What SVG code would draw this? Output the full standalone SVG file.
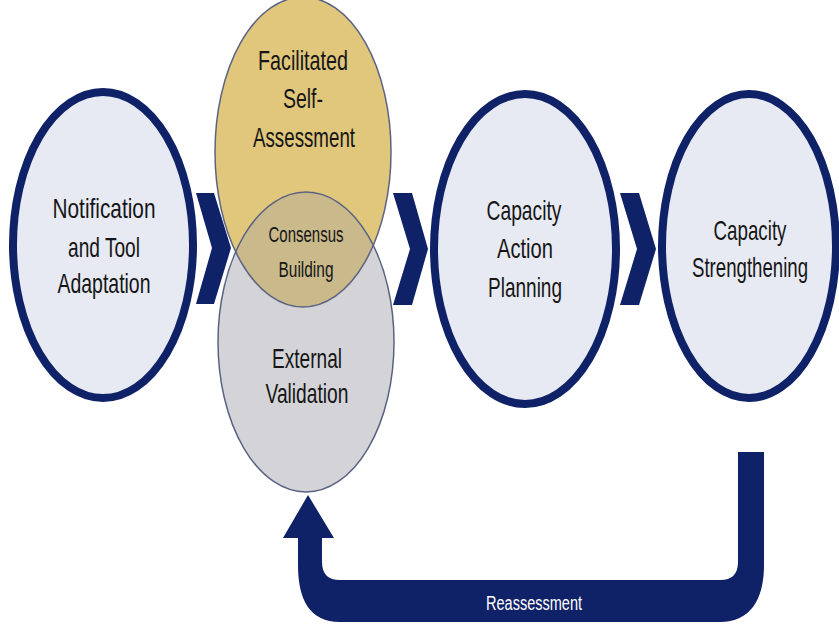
<svg xmlns="http://www.w3.org/2000/svg" width="839" height="624" viewBox="0 0 839 624">
<style>
.lbl{font-family:"Liberation Sans",Arial,sans-serif;font-size:28px;fill:#161616;text-anchor:middle}
.sm{font-size:22px}
.stage{fill:#e7eaf3;stroke:#0f2167;stroke-width:8}
.thin{fill:none;stroke:#5b6383;stroke-width:1.5}
.navy{fill:#0f2167}
</style>
<defs>
<clipPath id="goldClip"><ellipse cx="303" cy="152" rx="88" ry="155"/></clipPath>
</defs>
<rect width="839" height="624" fill="#fff"/>
<g id="connectors">
<polygon class="navy" points="196,193 214,193 231,248 214,304 196,304 212,248"/>
<polygon class="navy" points="393,193 412,193 428,249 412,305 393,305 410,249"/>
<polygon class="navy" points="620,193 639,193 656,249 639,305 620,305 637,249"/>
<path class="navy" d="M738,452 H764 V565 C764,600 750,622 720,622 H340 C310,622 298,600 298,565 V538 H283 L308,495 L334,538 H322 V562 Q322,580 340,580 H720 Q738,580 738,562 Z"/>
<text x="534" y="610" class="lbl" style="font-size:20px;fill:#fff" textLength="96" lengthAdjust="spacingAndGlyphs">Reassessment</text>
</g>
<g id="notification">
<ellipse class="stage" cx="103" cy="245" rx="90" ry="153"/>
<text class="lbl" x="104" y="218" textLength="103" lengthAdjust="spacingAndGlyphs">Notification</text>
<text class="lbl" x="104" y="257" textLength="72" lengthAdjust="spacingAndGlyphs">and Tool</text>
<text class="lbl" x="104" y="293" textLength="93" lengthAdjust="spacingAndGlyphs">Adaptation</text>
</g>
<g id="self-assessment">
<ellipse cx="303" cy="152" rx="88" ry="155" fill="#e0c77c"/>
</g>
<g id="external-validation">
<ellipse cx="306" cy="342" rx="88" ry="150" fill="#d4d4d8"/>
</g>
<g id="consensus">
<ellipse cx="306" cy="342" rx="88" ry="150" fill="#c9b98b" clip-path="url(#goldClip)"/>
<ellipse class="thin" cx="303" cy="152" rx="88" ry="155"/>
<ellipse class="thin" cx="306" cy="342" rx="88" ry="150"/>
<text class="lbl sm" x="306" y="242" textLength="75" lengthAdjust="spacingAndGlyphs">Consensus</text>
<text class="lbl sm" x="306" y="277" textLength="55" lengthAdjust="spacingAndGlyphs">Building</text>
</g>
<g id="self-assessment-text">
<text class="lbl" x="303" y="70" textLength="90" lengthAdjust="spacingAndGlyphs">Facilitated</text>
<text class="lbl" x="303" y="108" textLength="40" lengthAdjust="spacingAndGlyphs">Self-</text>
<text class="lbl" x="304" y="147" textLength="102" lengthAdjust="spacingAndGlyphs">Assessment</text>
</g>
<g id="external-validation-text">
<text class="lbl" x="307" y="368" textLength="70" lengthAdjust="spacingAndGlyphs">External</text>
<text class="lbl" x="307" y="403" textLength="83" lengthAdjust="spacingAndGlyphs">Validation</text>
</g>
<g id="action-planning">
<ellipse class="stage" cx="525" cy="249" rx="91" ry="155"/>
<text class="lbl" x="524" y="220" textLength="75" lengthAdjust="spacingAndGlyphs">Capacity</text>
<text class="lbl" x="525" y="258" textLength="56" lengthAdjust="spacingAndGlyphs">Action</text>
<text class="lbl" x="525" y="297" textLength="74" lengthAdjust="spacingAndGlyphs">Planning</text>
</g>
<g id="strengthening">
<ellipse class="stage" cx="749" cy="246" rx="87" ry="152"/>
<text class="lbl" x="750" y="240" textLength="73" lengthAdjust="spacingAndGlyphs">Capacity</text>
<text class="lbl" x="750" y="277" textLength="116" lengthAdjust="spacingAndGlyphs">Strengthening</text>
</g>
</svg>
